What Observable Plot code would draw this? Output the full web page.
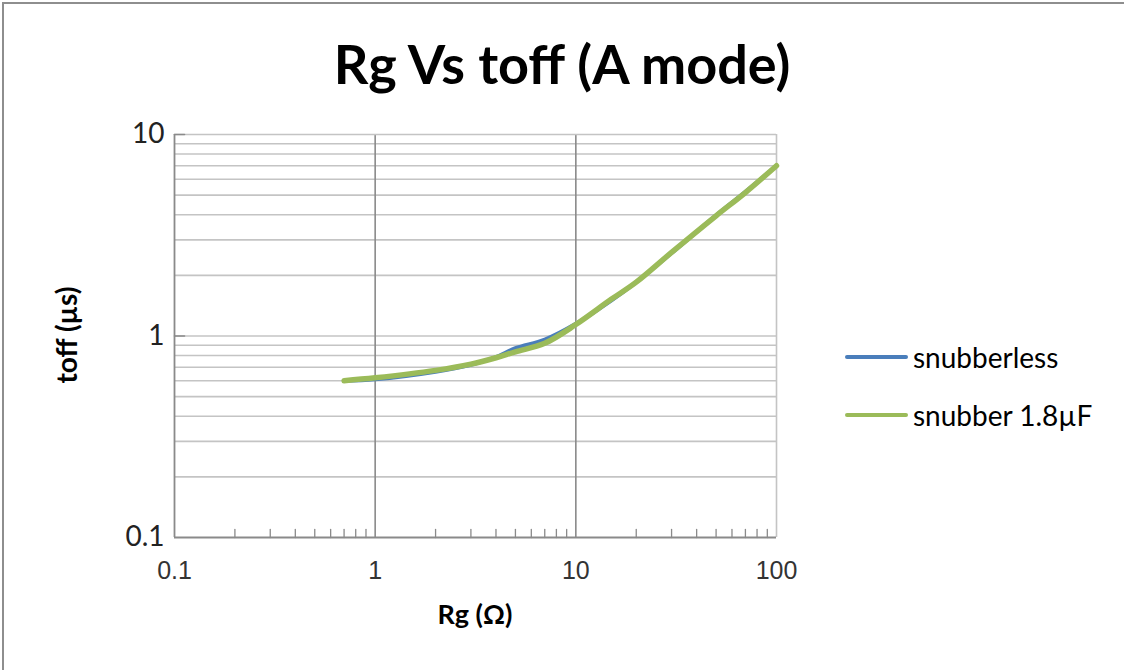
<!DOCTYPE html>
<html>
<head>
<meta charset="utf-8">
<script src="https://cdn.jsdelivr.net/npm/d3@7"></script>
<script src="https://cdn.jsdelivr.net/npm/@observablehq/plot@0.6"></script>
<style>
  html, body { margin: 0; padding: 0; background: #fff; overflow: hidden; }
  #wrap { position: relative; width: 1124px; height: 670px; }
  #frame { position: absolute; left: 2px; top: 2px; width: 1140px; height: 700px;
           border-top: 2px solid #8e8e8e; border-left: 2px solid #8e8e8e; box-sizing: border-box; }
  #title { position: absolute; left: 0; width: 1124px; top: 32px; text-align: center;
           font-family: Lato, "Open Sans", sans-serif; font-weight: 700; font-size: 54px; color: #000; line-height: 1.2; }
  .axlabel { position: absolute; font-family: Lato, "Open Sans", sans-serif; font-weight: 700; font-size: 27px; color: #000; white-space: nowrap; line-height: 1.2; }
  #xlabel { left: 375px; width: 200px; text-align: center; top: 598px; }
  #ylabel { left: 67px; top: 335px; font-size: 28px; transform: translate(-50%, -50%) rotate(-90deg); }
  #legend { position: absolute; left: 845px; top: 340px; font-family: Lato, "Open Sans", sans-serif; font-size: 28px; color: #000; }
  .item { display: flex; align-items: center; height: 34px; margin-bottom: 24px; }
  .swatch { width: 63px; height: 4px; border-radius: 2px; margin-right: 5px; }
  svg text { font-family: "Liberation Sans", Arial, sans-serif; }
</style>
</head>
<body>
<div id="wrap">
  <div id="chart"></div>
  <div id="frame"></div>
  <div id="title"></div>
  <div id="xlabel" class="axlabel"></div>
  <div id="ylabel" class="axlabel"></div>
  <div id="legend"></div>
</div>
<script>
// ---- data ----
const titleText = "Rg Vs toff (A mode)";
const xLabel = "Rg (Ω)";
const yLabel = "toff (µs)";
const rg = [0.7, 1, 2, 3, 4, 5, 7, 10, 15, 20, 30, 50, 70, 100];
const toffSnubberless = [0.60, 0.61, 0.665, 0.72, 0.785, 0.87, 0.96, 1.15, 1.50, 1.85, 2.58, 3.97, 5.2, 7.0];
const toffSnubber = [0.60, 0.62, 0.675, 0.725, 0.78, 0.835, 0.92, 1.14, 1.52, 1.85, 2.60, 3.95, 5.15, 7.0];
const seriesNames = ["snubberless", "snubber 1.8µF"];
const seriesColors = ["#4a7ebb", "#9bbb59"];
const xTicks = [0.1, 1, 10, 100];
const yTicks = [0.1, 1, 10];

// ---- build ----
const rows = [];
rg.forEach((x, i) => rows.push({series: seriesNames[0], x, y: toffSnubberless[i]}));
rg.forEach((x, i) => rows.push({series: seriesNames[1], x, y: toffSnubber[i]}));

const xDomain = [0.1, 100], yDomain = [0.1, 10];
const xMinor = d3.scaleLog().domain(xDomain).ticks().filter(v => !xTicks.some(t => Math.abs(t - v) < 1e-9));
const yGrid = d3.scaleLog().domain(yDomain).ticks().filter(v => v > 0.1 + 1e-9 && v < 10 - 1e-9);
const xMajorInner = xTicks.filter(v => v > xDomain[0] && v < xDomain[1]);

const tickShape = {draw(context, l) { context.moveTo(0, 0); context.lineTo(0, -l); }};

const plot = Plot.plot({
  width: 1124,
  height: 670,
  marginLeft: 174,
  marginRight: 348,
  marginTop: 134,
  marginBottom: 133,
  x: {type: "log", domain: xDomain},
  y: {type: "log", domain: yDomain},
  marks: [
    Plot.ruleY(yGrid, {stroke: "#c4c4c4", strokeWidth: 1.6}),
    Plot.ruleX(xMajorInner, {stroke: "#8a8a8a", strokeWidth: 1.6}),
    Plot.ruleY([yDomain[1]], {stroke: "#c4c4c4", strokeWidth: 1.6}),
    Plot.ruleX([xDomain[1]], {stroke: "#c4c4c4", strokeWidth: 1.6}),
    Plot.vector(xMinor, {x: d => d, y: yDomain[0], length: 8, rotate: 0, anchor: "start", shape: tickShape, stroke: "#8a8a8a", strokeWidth: 1.3}),
    Plot.vector(yTicks.slice(1), {x: xDomain[0], y: d => d, length: 10, rotate: 90, anchor: "start", shape: tickShape, stroke: "#8a8a8a", strokeWidth: 1.6}),
    Plot.ruleX([xDomain[0]], {stroke: "#8a8a8a", strokeWidth: 1.8}),
    Plot.ruleY([yDomain[0]], {stroke: "#8a8a8a", strokeWidth: 1.8}),
    Plot.line(rows.filter(d => d.series === seriesNames[0]), {x: "x", y: "y", stroke: seriesColors[0], strokeWidth: 4, curve: "catmull-rom"}),
    Plot.line(rows.filter(d => d.series === seriesNames[1]), {x: "x", y: "y", stroke: seriesColors[1], strokeWidth: 5.5, curve: "catmull-rom"}),
    Plot.axisX(xTicks, {tickSize: 0, tickPadding: 24, tickFormat: d => String(d), fontSize: 25, fill: "#333", label: null}),
    Plot.axisY(yTicks, {tickSize: 0, tickPadding: 10, tickFormat: d => String(d), fontSize: 28, fill: "#222", label: null})
  ]
});
plot.style.position = "absolute";
plot.style.left = "0px";
plot.style.top = "0px";
document.getElementById("chart").appendChild(plot);

// y tick labels in a Calibri-like face
plot.querySelectorAll('g[aria-label="y-axis tick label"] text').forEach(t => t.style.fontFamily = "Lato, 'Open Sans', sans-serif");

document.getElementById("title").textContent = titleText;
document.getElementById("xlabel").textContent = xLabel;
document.getElementById("ylabel").textContent = yLabel;

const legend = document.getElementById("legend");
seriesNames.forEach((name, i) => {
  const item = document.createElement("div");
  item.className = "item";
  const sw = document.createElement("div");
  sw.className = "swatch";
  sw.style.background = seriesColors[i];
  const lab = document.createElement("span");
  lab.textContent = name;
  item.appendChild(sw);
  item.appendChild(lab);
  legend.appendChild(item);
});
</script>
</body>
</html>
